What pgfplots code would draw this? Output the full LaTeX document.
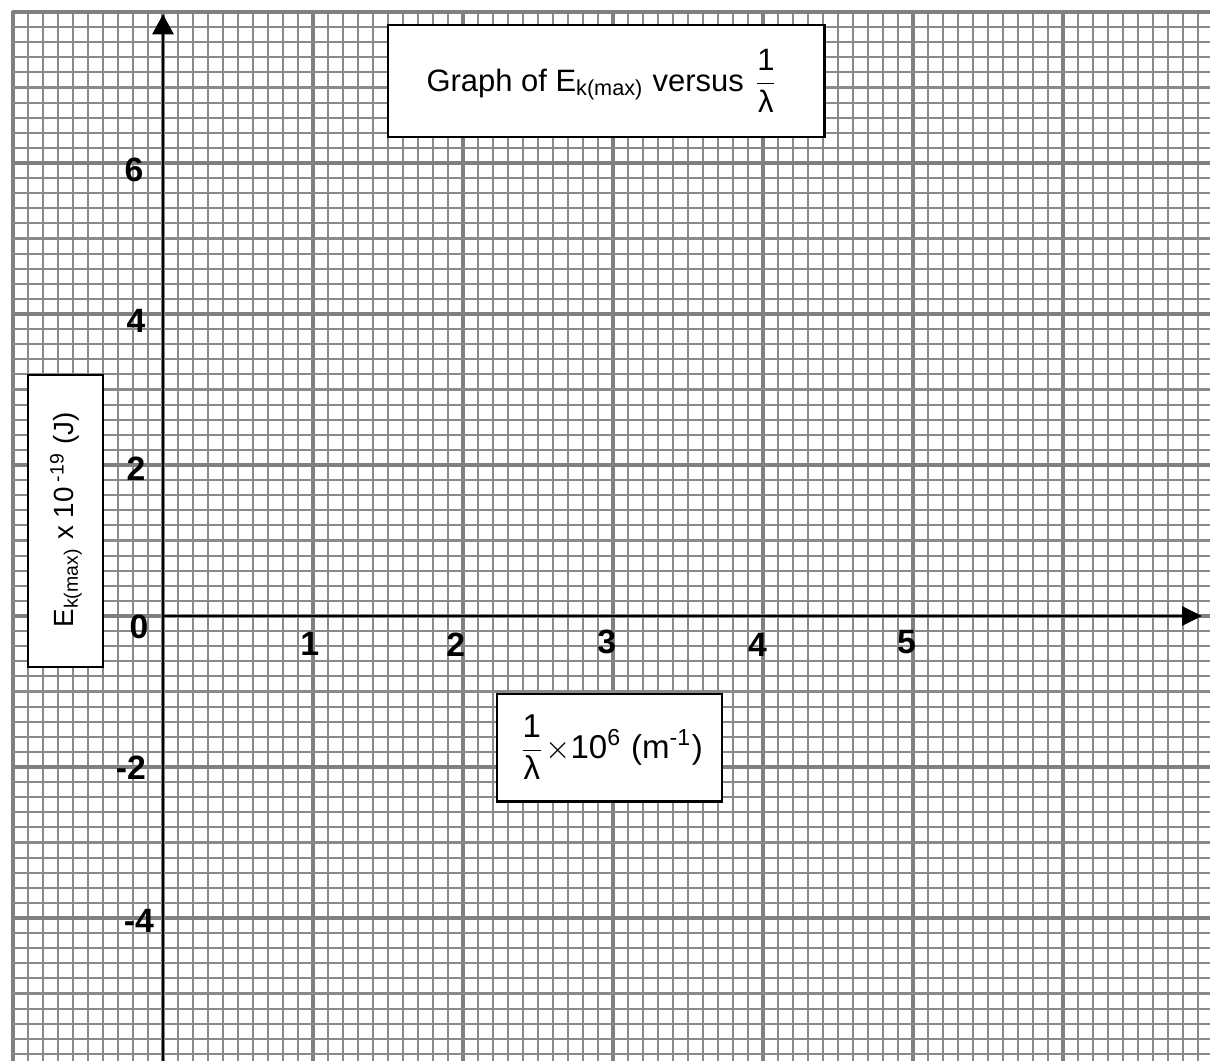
\documentclass[border=0pt]{standalone}
\usepackage{fontspec}
\setmainfont{Liberation Sans}
\usepackage{amsmath}
\usepackage{pgfplots}
\pgfplotsset{compat=1.18}
\usetikzlibrary{arrows.meta}
\definecolor{gridminor}{RGB}{138,138,138}
\definecolor{gridmajor}{RGB}{128,128,128}
\begin{document}
\begin{tikzpicture}
\begin{axis}[
  x=1.5cm, y=0.755cm,
  xmin=-1.01, xmax=6.98, ymin=-5.894, ymax=8.01,
  xtick={-1,0,...,6}, ytick={-4,-2,...,8},
  minor xtick={-1,-0.9,...,7},
  minor ytick={-6,-5.8,...,8},
  xticklabels={}, yticklabels={},
  major tick length=0pt, minor tick length=0pt,
  grid=both,
  minor grid style={gridminor, line width=0.58pt},
  major grid style={gridmajor, line width=1.15pt},
  axis line style={draw=none},
]
\draw[line width=0.8pt, -{Triangle[length=0.2cm,width=0.21cm]}] (axis cs:0,-5.894) -- (axis cs:0,7.97);
\draw[line width=0.8pt, -{Triangle[length=0.2cm,width=0.19cm]}] (axis cs:0,0) -- (axis cs:6.927,0);
\coordinate (TL) at (axis cs:-1.0867,8.159);
\coordinate (BR) at (axis cs:6.98,-5.894);
\end{axis}
\begin{scope}[shift={(TL)}, x=0.01cm, y=-0.01cm]
 \draw[line width=0.6pt, fill=white] (388,25) rectangle (825,137);
 \node[font=\fontsize{8.8}{10}\selectfont] at (603,81) {Graph of E\textsubscript{k(max)} versus\hspace{0.3em}$\dfrac{\mbox{1}}{\mbox{λ}}$};
 \draw[line width=0.6pt, fill=white] (28,375) rectangle (103,667);
 \node[rotate=90, font=\fontsize{7.9}{9}\selectfont] at (66,520) {E\textsubscript{k(max)} x 10\textsuperscript{ -19} (J)};
 \draw[line width=0.6pt, fill=white] (497,694) rectangle (722,802);
 \node[font=\fontsize{9.4}{11}\selectfont] at (611,748) {$\dfrac{\mbox{1}}{\mbox{λ}}\times$10\textsuperscript{6} (m\textsuperscript{-1})};
 \begin{scope}[every node/.style={font=\fontsize{9.6}{11}\selectfont\bfseries}]
  \node at (134,170) {6};
  \node at (136,321) {4};
  \node at (136,469) {2};
  \node at (139,627) {0};
  \node at (131,768) {-2};
  \node at (139,921) {-4};
  \node at (310,644) {1};
  \node at (456,645) {2};
  \node at (607,642) {3};
  \node at (758,645) {4};
  \node at (907,642) {5};
 \end{scope}
\end{scope}
\pgfresetboundingbox
\path[use as bounding box] (TL) rectangle (BR);
\end{tikzpicture}
\end{document}
